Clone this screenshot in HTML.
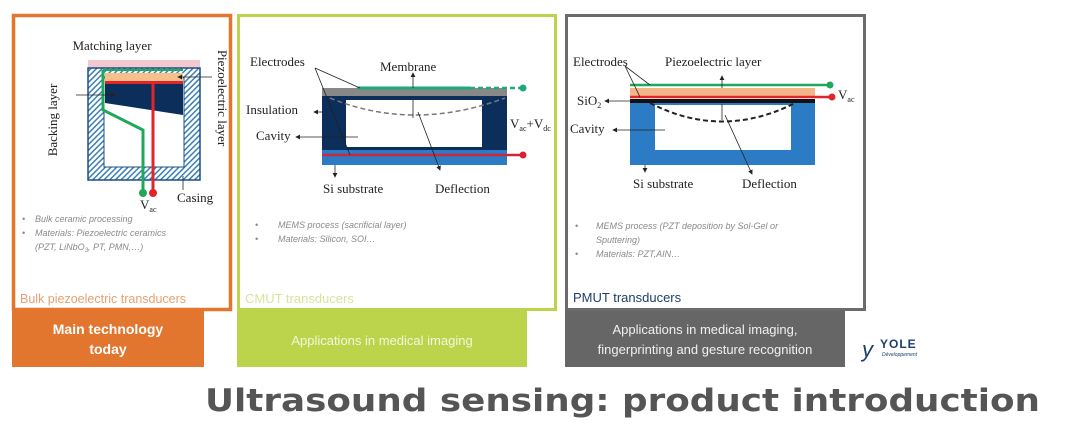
<!DOCTYPE html>
<html><head><meta charset="utf-8"><style>
html,body{margin:0;padding:0;background:#fff;}
svg{display:block;font-family:"Liberation Serif",serif;}
.s{font-family:"Liberation Sans",sans-serif;}
</style></head><body>
<svg width="1080" height="430" viewBox="0 0 1080 430" xmlns="http://www.w3.org/2000/svg">
<defs>
<pattern id="h" width="4" height="4" patternUnits="userSpaceOnUse" patternTransform="rotate(45)">
<rect width="4" height="4" fill="#fff"/><rect width="1.5" height="4" fill="#3a7fb5"/></pattern>
<marker id="a" markerWidth="6" markerHeight="6" refX="5" refY="3" orient="auto"><path d="M0,0L6,3L0,6z" fill="#222"/></marker>
</defs>

<!-- Panel 1 -->
<rect x="13.5" y="15.5" width="217" height="294" fill="#fff" stroke="#e2762f" stroke-width="3.5"/>
<rect x="12" y="311" width="192" height="56" fill="#e2762f"/>
<text x="108" y="334" class="s" font-size="14" font-weight="bold" fill="#fff" text-anchor="middle">Main technology</text>
<text x="108" y="354" class="s" font-size="14" font-weight="bold" fill="#fff" text-anchor="middle">today</text>
<text x="20" y="303" class="s" font-size="12.5" fill="#e8a070">Bulk piezoelectric transducers</text>

<text x="112" y="50" font-size="13" fill="#222" text-anchor="middle">Matching layer</text>
<rect x="88" y="60" width="112" height="8" fill="#f3c9cf"/>
<rect x="88" y="68" width="112" height="112" fill="url(#h)" stroke="#1e4f85" stroke-width="1.5"/>
<rect x="104" y="78" width="80" height="89" fill="#fff" stroke="#1e4f85" stroke-width="1"/>
<rect x="105" y="73" width="78" height="8" fill="#f5c08a"/>
<rect x="105" y="81" width="78" height="3" fill="#e0262a"/>
<path d="M105 84H183V115L105 103Z" fill="#0b2e5a"/>
<path d="M103 70V110L143 130V193" fill="none" stroke="#1fa85a" stroke-width="3"/>
<path d="M103 70H183" stroke="#1fa85a" stroke-width="2"/>
<path d="M153 82V193" fill="none" stroke="#e0262a" stroke-width="3"/>
<circle cx="143" cy="193" r="4" fill="#1fa85a"/><circle cx="153" cy="193" r="4" fill="#e0262a"/>
<text x="140" y="209" font-size="13" fill="#222">V<tspan font-size="8" dy="3">ac</tspan></text>
<text x="177" y="202" font-size="13" fill="#222">Casing</text>
<line x1="183" y1="190" x2="183" y2="176" stroke="#222" stroke-width="0.8"/>
<text transform="translate(57 120) rotate(-90)" font-size="13" fill="#222" text-anchor="middle">Backing layer</text>
<text transform="translate(218 98) rotate(90)" font-size="13" fill="#222" text-anchor="middle">Piezoelectric layer</text>
<line x1="76" y1="95" x2="115" y2="95" stroke="#222" stroke-width="0.8" marker-end="url(#a)"/>
<line x1="212" y1="77" x2="178" y2="77" stroke="#222" stroke-width="0.8" marker-end="url(#a)"/>
<g class="s" font-size="9" font-style="italic" fill="#8a8a8a">
<text x="22" y="222">•</text><text x="35" y="222">Bulk ceramic processing</text>
<text x="22" y="236">•</text><text x="35" y="236">Materials: Piezoelectric ceramics</text>
<text x="35" y="250">(PZT, LiNbO<tspan font-size="6" dy="2">3</tspan><tspan dy="-2">, PT, PMN,…)</tspan></text>
</g>

<!-- Panel 2 -->
<rect x="238.5" y="15.5" width="317" height="294" fill="#fff" stroke="#bcd34c" stroke-width="3"/>
<rect x="237" y="311" width="290" height="56" fill="#bcd34c"/>
<text x="382" y="345" class="s" font-size="13" fill="#f2f7dc" text-anchor="middle">Applications in medical imaging</text>
<text x="245" y="303" class="s" font-size="13" fill="#d6e59a">CMUT transducers</text>

<rect x="322" y="96" width="185" height="54" fill="#0b2e5a"/>
<rect x="346" y="100" width="136" height="47" fill="#fff"/>
<rect x="322" y="150" width="185" height="15" fill="#2b7cc4"/>
<line x1="322" y1="155" x2="523" y2="155" stroke="#d0263a" stroke-width="2.5"/>
<circle cx="523" cy="155" r="3.5" fill="#d0263a"/>
<rect x="322" y="88" width="185" height="8" fill="#888"/>
<line x1="357" y1="88" x2="470" y2="88" stroke="#1fa87a" stroke-width="3"/>
<line x1="470" y1="88" x2="523" y2="88" stroke="#1fa87a" stroke-width="2.5" stroke-dasharray="5 3"/>
<circle cx="523" cy="88" r="3.5" fill="#1fa87a"/>
<path d="M330 98Q413 132 505 98" fill="none" stroke="#777" stroke-width="1.5" stroke-dasharray="5 3"/>
<g font-size="13" fill="#222">
<text x="250" y="66">Electrodes</text>
<text x="380" y="71">Membrane</text>
<text x="246" y="114">Insulation</text>
<text x="256" y="140">Cavity</text>
<text x="323" y="193">Si substrate</text>
<text x="435" y="193">Deflection</text>
<text x="510" y="128">V<tspan font-size="8" dy="3">ac</tspan><tspan dy="-3">+V</tspan><tspan font-size="8" dy="3">dc</tspan></text>
</g>
<g stroke="#222" stroke-width="0.8" fill="none">
<line x1="315" y1="68" x2="360" y2="88"/><line x1="315" y1="68" x2="350" y2="155"/>
<line x1="413" y1="88" x2="413" y2="73" marker-end="url(#a)"/>
<line x1="413" y1="100" x2="413" y2="118"/>
<line x1="418" y1="112" x2="440" y2="170" marker-end="url(#a)"/>
<line x1="322" y1="112" x2="314" y2="112" marker-end="url(#a)"/>
<line x1="358" y1="137" x2="296" y2="137" marker-end="url(#a)"/>
<line x1="335" y1="165" x2="335" y2="177" marker-end="url(#a)"/>
</g>
<g class="s" font-size="9" font-style="italic" fill="#8a8a8a">
<text x="255" y="228">•</text><text x="278" y="228">MEMS process (sacrificial layer)</text>
<text x="255" y="242">•</text><text x="278" y="242">Materials: Silicon, SOI…</text>
</g>

<!-- Panel 3 -->
<rect x="566.5" y="15.5" width="298" height="294" fill="#fff" stroke="#6b6b6b" stroke-width="3"/>
<rect x="565" y="311" width="280" height="56" fill="#666"/>
<text x="705" y="334" class="s" font-size="13" fill="#f0f0f0" text-anchor="middle">Applications in medical imaging,</text>
<text x="705" y="354" class="s" font-size="13" fill="#f0f0f0" text-anchor="middle">fingerprinting and gesture recognition</text>
<text x="573" y="302" class="s" font-size="13" fill="#1e3f6a">PMUT transducers</text>

<rect x="630" y="103" width="185" height="62" fill="#2b7cc4"/>
<rect x="655" y="105" width="136" height="45" fill="#fff"/>
<rect x="630" y="99" width="185" height="4" fill="#111"/>
<rect x="630" y="88" width="185" height="8" fill="#f5b58a"/>
<line x1="630" y1="97" x2="832" y2="97" stroke="#e0262a" stroke-width="2.5"/>
<circle cx="832" cy="97" r="3.5" fill="#e0262a"/>
<line x1="630" y1="85" x2="830" y2="85" stroke="#1fa85a" stroke-width="2.5"/>
<circle cx="830" cy="85" r="3.5" fill="#1fa85a"/>
<path d="M650 103Q722 140 795 103" fill="none" stroke="#222" stroke-width="2" stroke-dasharray="5 3"/>
<g font-size="13" fill="#222">
<text x="573" y="66">Electrodes</text>
<text x="665" y="66">Piezoelectric layer</text>
<text x="577" y="105">SiO<tspan font-size="8" dy="3">2</tspan></text>
<text x="570" y="133">Cavity</text>
<text x="633" y="188">Si substrate</text>
<text x="742" y="188">Deflection</text>
<text x="838" y="99">V<tspan font-size="8" dy="3">ac</tspan></text>
</g>
<g stroke="#222" stroke-width="0.8" fill="none">
<line x1="625" y1="66" x2="650" y2="85"/><line x1="625" y1="66" x2="640" y2="97"/>
<line x1="722" y1="88" x2="722" y2="76" marker-end="url(#a)"/>
<line x1="722" y1="104" x2="722" y2="120"/>
<line x1="725" y1="115" x2="752" y2="174" marker-end="url(#a)"/>
<line x1="630" y1="101" x2="605" y2="101" marker-end="url(#a)"/>
<line x1="665" y1="130" x2="613" y2="130" marker-end="url(#a)"/>
<line x1="645" y1="165" x2="645" y2="172" marker-end="url(#a)"/>
</g>
<g class="s" font-size="9" font-style="italic" fill="#8a8a8a">
<text x="575" y="229">•</text><text x="596" y="229">MEMS process (PZT deposition by Sol-Gel or</text>
<text x="596" y="243">Sputtering)</text>
<text x="575" y="257">•</text><text x="596" y="257">Materials: PZT,AIN…</text>
</g>

<!-- Logo -->
<text x="862" y="357" class="s" font-size="22" fill="#1e3f6a" font-style="italic">y</text>
<text x="880" y="348" class="s" font-size="12" font-weight="bold" fill="#1e3f6a" letter-spacing="1">YOLE</text>
<text x="882" y="356" class="s" font-size="5" font-style="italic" fill="#1e3f6a">Développement</text>

<!-- Title -->
<text x="205" y="411" font-family="DejaVu Sans, sans-serif" font-size="31" font-weight="bold" fill="#555" textLength="835" lengthAdjust="spacingAndGlyphs">Ultrasound sensing: product introduction</text>
</svg>
</body></html>
